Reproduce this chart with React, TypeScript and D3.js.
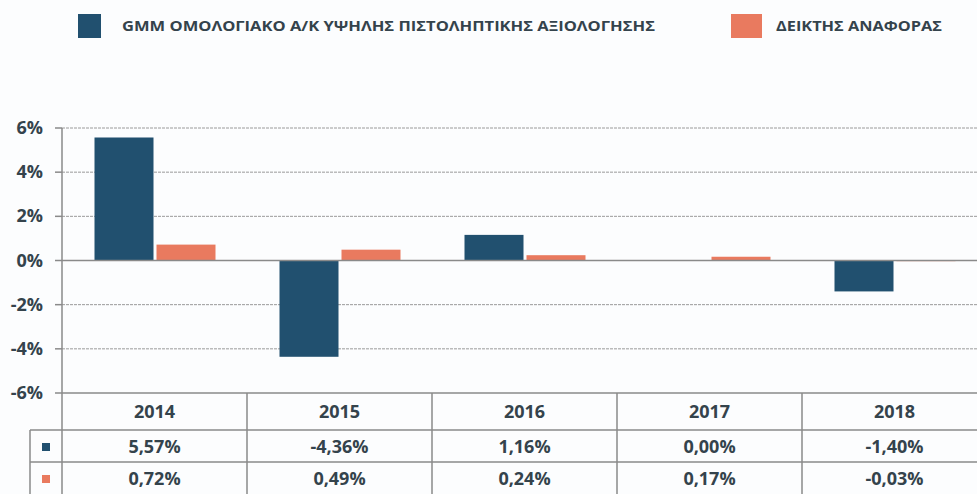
import React from "react";
import * as d3 from "d3";

const years = ["2014", "2015", "2016", "2017", "2018"];
const fundValues = [5.57, -4.36, 1.16, 0.0, -1.4];
const benchValues = [0.72, 0.49, 0.24, 0.17, -0.03];
const yTicks = [6, 4, 2, 0, -2, -4, -6];
const fundName = "GMM ΟΜΟΛΟΓΙΑΚΟ Α/Κ ΥΨΗΛΗΣ ΠΙΣΤΟΛΗΠΤΙΚΗΣ ΑΞΙΟΛΟΓΗΣΗΣ";
const benchName = "ΔΕΙΚΤΗΣ ΑΝΑΦΟΡΑΣ";

const W = 977;
const H = 494;
const BLUE = "#21506f";
const ORANGE = "#e97a5f";
const TEXT = "#34434c";
const LINE = "#8a8a8a";
const FONT = "'Open Sans', 'Noto Sans', sans-serif";

const fmt = (v: number) => v.toFixed(2).replace(".", ",") + "%";

export default function App() {
  const x = d3.scaleBand<string>().domain(years).range([62, 987]).paddingInner(0).paddingOuter(0);
  const y = d3.scaleLinear().domain([-6, 6]).range([393, 128]);
  const bw = x.bandwidth();
  const barW = 59;
  const y0 = y(0);
  const rowTop = [393, 430, 462, 494];

  return (
    <svg width={W} height={H} style={{ position: "absolute", left: 0, top: 0, background: "#fcfdfe" }} fontFamily={FONT}>
      {/* legend */}
      <rect x={78} y={14} width={23} height={24} fill={BLUE} />
      <text x={122} y={31} fontSize={14} fontWeight={700} fill={TEXT} textLength={533} lengthAdjust="spacingAndGlyphs">{fundName}</text>
      <rect x={731} y={14} width={31} height={24} fill={ORANGE} />
      <text x={776} y={31} fontSize={14} fontWeight={700} fill={TEXT} textLength={166} lengthAdjust="spacingAndGlyphs">{benchName}</text>

      {/* gridlines */}
      {yTicks.filter((t) => t !== 0 && t !== -6).map((t) => (
        <line key={t} x1={62} x2={W} y1={y(t)} y2={y(t)} stroke="#9a9a9a" strokeWidth={1} strokeDasharray="3,1" />
      ))}
      {/* y ticks and labels */}
      {yTicks.map((t) => (
        <g key={"t" + t}>
          <line x1={55} x2={62} y1={y(t)} y2={y(t)} stroke={LINE} strokeWidth={1.5} />
          <text x={43} y={y(t) + 6} textAnchor="end" fontSize={18} fontWeight={700} fill={TEXT}>{t + "%"}</text>
        </g>
      ))}

      {/* bars */}
      {years.map((yr, i) => {
        const c = (x(yr) as number) + bw / 2;
        const fv = fundValues[i];
        const bv = benchValues[i];
        return (
          <g key={yr}>
            <rect x={c - barW - 1} y={Math.min(y(fv), y0)} width={barW} height={Math.abs(y(fv) - y0)} fill={BLUE} />
            <rect x={c + 2} y={Math.min(y(bv), y0)} width={barW} height={Math.max(Math.abs(y(bv) - y0), 0.5)} fill={ORANGE} />
          </g>
        );
      })}

      {/* zero line */}
      <line x1={62} x2={W} y1={y0} y2={y0} stroke={LINE} strokeWidth={1.5} />
      {/* axis line */}
      <line x1={62} x2={62} y1={128} y2={H} stroke={LINE} strokeWidth={1.5} />

      {/* table */}
      <line x1={62} x2={W} y1={rowTop[0]} y2={rowTop[0]} stroke={LINE} strokeWidth={1.5} />
      <line x1={30} x2={W} y1={rowTop[1]} y2={rowTop[1]} stroke={LINE} strokeWidth={1.5} />
      <line x1={30} x2={W} y1={rowTop[2]} y2={rowTop[2]} stroke={LINE} strokeWidth={1.5} />
      <line x1={30} x2={30} y1={rowTop[1]} y2={H} stroke={LINE} strokeWidth={1.5} />
      {years.slice(1).map((yr) => (
        <line key={"v" + yr} x1={x(yr) as number} x2={x(yr) as number} y1={rowTop[0]} y2={H} stroke={LINE} strokeWidth={1.5} />
      ))}
      <rect x={42} y={443} width={8} height={8} fill={BLUE} />
      <rect x={42} y={475} width={8} height={8} fill={ORANGE} />
      {years.map((yr, i) => {
        const c = (x(yr) as number) + bw / 2;
        return (
          <g key={"tb" + yr} fontSize={18} fontWeight={700} fill={TEXT} textAnchor="middle">
            <text x={c} y={418}>{yr}</text>
            <text x={c} y={453}>{fmt(fundValues[i])}</text>
            <text x={c} y={485}>{fmt(benchValues[i])}</text>
          </g>
        );
      })}
    </svg>
  );
}
